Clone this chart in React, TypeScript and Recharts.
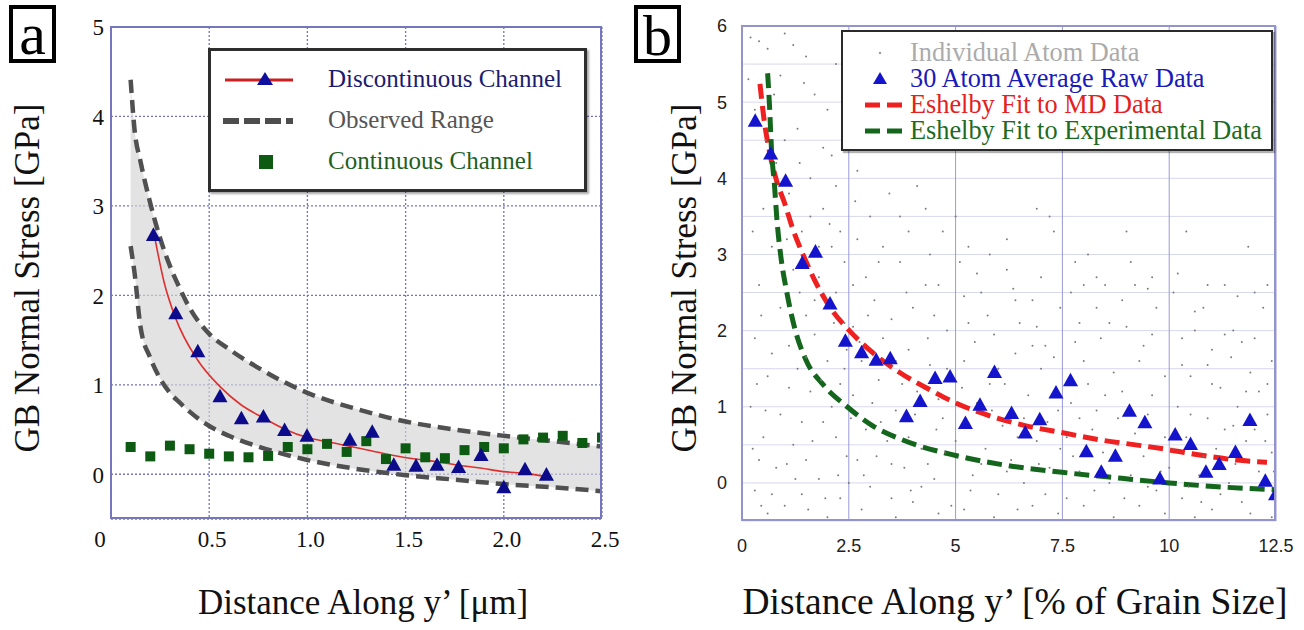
import React from "react";
import {
  ComposedChart,
  Line,
  Area,
  Scatter,
  XAxis,
  YAxis,
  CartesianGrid,
} from "recharts";

const SERIF = "'Liberation Serif', 'Times New Roman', serif";
const SANS = "'Liberation Sans', Arial, sans-serif";

// ---------- Panel (a) data ----------
const aXTicks = [0, 0.5, 1.0, 1.5, 2.0, 2.5];
const aXTickLabels = ["0", "0.5", "1.0", "1.5", "2.0", "2.5"];
const aYTicks = [0, 1, 2, 3, 4, 5];

const aBandX = [0.1, 0.12, 0.15, 0.2, 0.25, 0.3, 0.35, 0.4, 0.5, 0.6, 0.75, 1.0, 1.25, 1.5, 1.75, 2.0, 2.25, 2.5];
const aBandUpper = [4.41, 3.85, 3.5, 3.03, 2.64, 2.33, 2.08, 1.86, 1.57, 1.4, 1.19, 0.91, 0.73, 0.59, 0.5, 0.43, 0.37, 0.31];
const aBandLower = [2.55, 2.25, 1.65, 1.3, 1.07, 0.91, 0.8, 0.7, 0.54, 0.43, 0.31, 0.16, 0.06, -0.01, -0.06, -0.11, -0.145, -0.19];

const aFitX = [0.225, 0.27, 0.33, 0.44, 0.555, 0.66, 0.776, 0.88, 1.0, 1.11, 1.22, 1.33, 1.44, 1.55, 1.66, 1.77, 1.88, 2.0, 2.11, 2.22];
const aFitY = [2.62, 2.15, 1.74, 1.28, 0.98, 0.78, 0.63, 0.51, 0.41, 0.36, 0.31, 0.26, 0.21, 0.17, 0.14, 0.1, 0.07, 0.03, 0.01, -0.03];

const aDiscX = [0.216, 0.33, 0.442, 0.555, 0.664, 0.776, 0.884, 0.998, 1.216, 1.33, 1.44, 1.553, 1.66, 1.77, 1.884, 2.0, 2.108, 2.217];
const aDiscY = [2.67, 1.795, 1.37, 0.865, 0.62, 0.64, 0.49, 0.425, 0.38, 0.47, 0.1, 0.09, 0.1, 0.075, 0.21, -0.15, 0.05, -0.01];

const aContX = [0.1, 0.2, 0.3, 0.4, 0.5, 0.6, 0.7, 0.8, 0.9, 1.0, 1.1, 1.2, 1.3, 1.4, 1.5, 1.6, 1.7, 1.8, 1.9, 2.0, 2.1, 2.2, 2.3, 2.4, 2.5];
const aContY = [0.305, 0.2, 0.32, 0.28, 0.23, 0.2, 0.19, 0.205, 0.305, 0.28, 0.34, 0.25, 0.37, 0.17, 0.29, 0.19, 0.18, 0.27, 0.305, 0.29, 0.39, 0.41, 0.43, 0.35, 0.41];

// ---------- Panel (b) data ----------
const bXTicks = [0, 2.5, 5, 7.5, 10, 12.5];
const bXTickLabels = ["0", "2.5", "5", "7.5", "10", "12.5"];
const bYGrid = [-0.5, 0, 0.5, 1, 1.5, 2, 2.5, 3, 3.5, 4, 4.5, 5, 5.5, 6];
const bYLabels = [0, 1, 2, 3, 4, 5, 6];

const bAvgX = [0.31, 0.67, 1.02, 1.41, 1.72, 2.06, 2.42, 2.8, 3.14, 3.47, 3.85, 4.17, 4.52, 4.87, 5.23, 5.57, 5.91, 6.31, 6.63, 6.97, 7.35, 7.69, 8.06, 8.41, 8.74, 9.07, 9.43, 9.78, 10.14, 10.5, 10.86, 11.17, 11.55, 11.89, 12.25, 12.49];
const bAvgY = [4.75, 4.32, 3.96, 2.88, 3.03, 2.35, 1.86, 1.71, 1.61, 1.63, 0.87, 1.07, 1.37, 1.39, 0.78, 1.02, 1.45, 0.91, 0.655, 0.83, 1.18, 1.34, 0.41, 0.14, 0.35, 0.94, 0.79, 0.05, 0.63, 0.505, 0.14, 0.24, 0.4, 0.82, 0.02, -0.155];

const bMdFitX = [0.42, 0.51, 0.65, 0.82, 1.0, 1.18, 1.45, 1.72, 2.08, 2.53, 3.06, 3.69, 4.41, 5.0, 5.75, 6.65, 7.54, 8.44, 9.34, 10.0, 10.68, 11.58, 12.29];
const bMdFitY = [5.24, 4.8, 4.33, 3.95, 3.67, 3.35, 2.97, 2.64, 2.29, 1.99, 1.71, 1.45, 1.22, 1.05, 0.89, 0.75, 0.655, 0.56, 0.49, 0.435, 0.37, 0.3, 0.27];

const bExpFitX = [0.6, 0.645, 0.69, 0.76, 0.82, 0.91, 1.05, 1.23, 1.5, 1.9, 2.44, 3.06, 3.78, 5.0, 6.2, 7.49, 8.89, 10.0, 11.13, 12.5];
const bExpFitY = [5.38, 4.94, 4.38, 3.91, 3.44, 2.97, 2.5, 2.04, 1.61, 1.29, 1.01, 0.75, 0.56, 0.36, 0.23, 0.14, 0.06, 0.0, -0.05, -0.09];

const bAtoms: [number, number][] = [
  [0.4, 5.8], [1.0, 5.9], [1.2, 5.75], [0.2, 5.85], [0.6, 5.7], [1.5, 5.6], [0.9, 5.35], [1.7, 5.1], [0.3, 4.9], [1.3, 4.65],
  [2.0, 4.9], [0.8, 4.2], [1.9, 4.4], [1.1, 3.8], [2.2, 3.9], [0.5, 3.6], [1.6, 3.5], [2.3, 3.3], [0.7, 3.1], [1.4, 3.3],
  [1.9, 3.6], [2.1, 3.1], [0.4, 2.6], [1.2, 2.8], [1.8, 2.7], [2.4, 2.9], [0.9, 2.3], [1.5, 2.2], [2.2, 2.5], [0.3, 1.9],
  [1.1, 1.8], [1.7, 1.95], [2.4, 2.1], [0.6, 1.4], [1.3, 1.5], [2.0, 1.6], [0.2, 1.0], [0.9, 0.9], [1.6, 1.2], [2.3, 1.3],
  [0.5, 0.6], [1.2, 0.5], [1.9, 0.8], [0.8, 0.2], [1.5, 0.3], [2.2, 0.6], [0.3, -0.1], [1.0, -0.3], [1.8, 0.05], [2.3, -0.2],
  [0.6, -0.4], [1.4, -0.15], [2.0, -0.45], [1.7, 2.4], [2.45, 1.75], [0.4, 0.3], [1.35, 4.2], [2.1, 4.3], [1.0, 4.5], [1.8, 3.1],
  [0.15, 5.3], [0.75, 5.1], [1.45, 5.25], [2.2, 5.5], [0.55, 4.5], [1.6, 4.0], [2.35, 4.6], [0.25, 3.3], [1.05, 3.2], [2.05, 3.4],
  [0.45, 2.2], [1.35, 2.5], [2.15, 2.1], [0.7, 1.7], [1.5, 1.65], [2.4, 1.5], [0.35, 1.3], [1.1, 1.25], [1.85, 1.35], [0.55, 0.95],
  [1.4, 0.8], [2.1, 1.0], [0.25, 0.45], [1.05, 0.25], [1.65, 0.55], [2.45, 0.35], [0.7, -0.15], [1.55, -0.35], [2.25, 0.1], [0.45, -0.3],
  [1.25, 0.05], [1.95, -0.2],
  [2.7, 3.2], [3.3, 3.1], [2.9, 2.7], [3.7, 2.9], [4.3, 3.6], [4.6, 2.6], [3.1, 2.4], [4.0, 2.3], [2.6, 2.05], [3.5, 2.15],
  [4.8, 2.0], [2.8, 1.6], [3.9, 1.75], [4.4, 1.55], [3.2, 1.35], [2.6, 1.15], [4.1, 1.2], [3.6, 0.95], [4.7, 0.85], [2.9, 0.7],
  [3.4, 0.55], [4.2, 0.45], [2.7, 0.3], [3.8, 0.2], [4.5, 0.05], [3.0, -0.05], [4.0, -0.25], [2.8, -0.35], [3.6, -0.45], [4.9, -0.3],
  [3.3, 1.9], [4.6, 1.1], [2.5, 0.0], [3.9, 0.6], [4.3, 2.6], [3.0, 3.5], [4.8, 1.5], [3.5, 0.25], [4.2, -0.05], [2.6, 2.6],
  [3.7, 3.5], [3.2, 2.9], [4.4, 3.0], [2.7, 4.1], [3.9, 3.3],
  [2.65, 3.7], [3.45, 3.8], [4.1, 3.9], [4.7, 3.3], [2.95, 2.2], [3.85, 2.5], [4.5, 2.2], [2.75, 1.85], [3.6, 1.6], [4.35, 1.9],
  [3.05, 1.05], [3.75, 1.3], [4.55, 0.7], [2.55, 0.85], [3.25, 0.8], [4.05, 0.9], [2.85, 0.1], [3.5, -0.2], [4.35, 0.25], [4.75, 0.4],
  [3.15, 0.35], [3.95, -0.1], [4.6, -0.4],
  [5.1, 2.9], [5.6, 2.5], [6.2, 2.8], [6.8, 2.4], [7.2, 3.5], [7.3, 3.3], [5.3, 2.1], [5.9, 1.95], [6.5, 2.1], [7.1, 1.8],
  [5.2, 1.6], [5.8, 1.3], [6.4, 1.7], [7.0, 1.5], [5.5, 1.05], [6.1, 0.75], [6.7, 1.15], [7.4, 0.95], [5.0, 0.55], [5.7, 0.45],
  [6.3, 0.3], [6.9, 0.55], [5.4, 0.1], [6.0, -0.15], [6.6, 0.0], [7.2, 0.2], [5.2, -0.35], [5.9, -0.45], [6.8, -0.3], [7.4, -0.4],
  [6.2, 3.2], [5.5, 2.75], [7.0, 2.7], [6.0, 1.5], [5.0, 3.5], [6.6, 0.85], [5.3, 3.1], [6.4, 2.4], [7.3, 1.2],
  [5.2, 2.45], [5.75, 2.2], [6.35, 2.55], [6.9, 2.05], [7.45, 2.3], [5.45, 1.85], [6.15, 1.3], [6.8, 1.8], [7.3, 1.65], [5.15, 1.25],
  [5.85, 0.95], [6.45, 0.6], [7.15, 0.8], [5.6, 0.25], [6.2, 0.15], [6.95, 0.25], [7.45, 0.45], [5.35, -0.1], [6.45, -0.35], [7.1, -0.15],
  [5.8, 3.0], [6.9, 3.6],
  [7.8, 2.9], [8.5, 2.6], [9.2, 2.6], [9.7, 2.3], [7.9, 2.1], [8.4, 1.9], [9.0, 2.05], [9.6, 1.95], [8.0, 1.6], [8.7, 1.45],
  [9.3, 1.6], [9.9, 1.4], [7.7, 1.05], [8.3, 0.95], [8.9, 1.2], [9.5, 0.9], [7.6, 0.6], [8.2, 0.7], [8.8, 0.5], [9.4, 0.35],
  [9.9, 0.6], [7.9, 0.15], [8.6, 0.0], [9.1, 0.1], [9.7, -0.1], [8.0, -0.3], [8.7, -0.45], [9.3, -0.3], [9.9, -0.4], [8.1, 3.0],
  [9.6, 2.7], [7.6, -0.2], [8.5, 1.15], [9.1, 2.9], [8.3, 2.3],
  [7.7, 2.5], [8.3, 2.7], [8.9, 2.4], [9.5, 2.55], [7.8, 1.85], [8.6, 2.1], [9.4, 1.8], [8.1, 1.3], [8.8, 0.85], [9.6, 1.15],
  [7.9, 0.85], [8.45, 0.4], [9.2, 0.65], [9.8, 0.15], [8.25, -0.1], [8.95, -0.2], [9.5, -0.05], [7.75, 0.35], [9.0, 3.3], [8.0, 2.6],
  [10.1, 2.5], [10.8, 2.3], [11.5, 2.0], [12.2, 2.3], [10.3, 1.9], [11.0, 1.75], [11.7, 1.85], [12.4, 1.6], [10.5, 1.4], [11.2, 1.25],
  [11.9, 1.45], [10.2, 1.0], [10.9, 0.85], [11.6, 1.0], [12.3, 0.9], [10.4, 0.6], [11.1, 0.45], [11.8, 0.55], [12.4, 0.4], [10.0, 0.2],
  [10.7, 0.1], [11.4, 0.0], [12.1, 0.15], [10.3, -0.2], [11.0, -0.35], [11.7, -0.25], [12.4, -0.45], [10.6, -0.45], [11.3, 2.6], [12.0, 2.5],
  [10.9, 1.55], [11.5, 0.75], [12.1, 1.2], [10.6, 2.0],
  [10.2, 2.75], [10.9, 2.6], [11.6, 2.45], [12.3, 2.6], [10.6, 2.25], [11.3, 1.95], [12.0, 1.9], [10.3, 1.55], [11.0, 1.3], [11.8, 1.2],
  [12.3, 1.3], [10.5, 0.9], [11.3, 0.7], [12.0, 0.7], [10.1, 0.45], [10.8, 0.35], [11.55, 0.25], [12.25, 0.55], [10.45, -0.05], [11.2, -0.15],
  [11.9, -0.4], [12.45, 0.15], [11.45, 1.65], [10.75, -0.25], [11.85, 3.1], [10.4, 3.3],
];

// ---------- built tables ----------
const aBand = aBandX.map((x, i) => ({ x, range: [aBandLower[i], aBandUpper[i]], upper: aBandUpper[i], lower: aBandLower[i] }));
const aFit = aFitX.map((x, i) => ({ x, y: aFitY[i] }));
const aDisc = aDiscX.map((x, i) => ({ x, y: aDiscY[i] }));
const aCont = aContX.map((x, i) => ({ x, y: aContY[i] }));
const bAvg = bAvgX.map((x, i) => ({ x, y: bAvgY[i] }));
const bMd = bMdFitX.map((x, i) => ({ x, y: bMdFitY[i] }));
const bExp = bExpFitX.map((x, i) => ({ x, y: bExpFitY[i] }));
const bAtomData = bAtoms.map(([x, y]) => ({ x, y }));

const triShape = (color: string, s: number) => (p: any) => {
  const { cx, cy } = p;
  if (cx == null || cy == null) return <g />;
  return (
    <polygon
      points={`${cx},${cy - s * 0.62} ${cx - s * 0.58},${cy + s * 0.42} ${cx + s * 0.58},${cy + s * 0.42}`}
      fill={color}
    />
  );
};
const sqShape = (color: string, s: number) => (p: any) => {
  const { cx, cy } = p;
  if (cx == null || cy == null) return <g />;
  return <rect x={cx - s / 2} y={cy - s / 2} width={s} height={s} fill={color} />;
};
const dotShape = (p: any) => {
  const { cx, cy } = p;
  if (cx == null || cy == null) return <g />;
  return <circle cx={cx} cy={cy} r={1.0} fill="#7c7c7c" />;
};

const AXTick = (p: any) => {
  const v = p.payload.value;
  const idx = aXTicks.indexOf(v);
  const label = idx >= 0 ? aXTickLabels[idx] : String(v);
  return (
    <text x={p.x + (v === 0 ? -11 : 3)} y={p.y} dy="0.71em" textAnchor="middle" style={{ fontFamily: SERIF, fontSize: 23 }} fill="#111">
      {label}
    </text>
  );
};
const AYTick = (p: any) => (
  <text x={p.x + 1} y={p.y} dy="0.36em" textAnchor="end" style={{ fontFamily: SERIF, fontSize: 23 }} fill="#111">
    {p.payload.value}
  </text>
);
const BXTick = (p: any) => {
  const v = p.payload.value;
  const idx = bXTicks.indexOf(v);
  return (
    <text x={p.x} y={p.y} dy="0.71em" textAnchor="middle" style={{ fontFamily: SANS, fontSize: 18 }} fill="#222">
      {idx >= 0 ? bXTickLabels[idx] : v}
    </text>
  );
};
const BYTick = (p: any) => {
  const v = p.payload.value;
  if (!bYLabels.includes(v)) return <g />;
  return (
    <text x={p.x} y={p.y} dy="0.36em" textAnchor="end" style={{ fontFamily: SANS, fontSize: 18 }} fill="#222">
      {v}
    </text>
  );
};

function PanelA() {
  return (
    <div style={{ position: "absolute", left: 0, top: 0, width: 620, height: 630 }}>
      <ComposedChart width={620} height={630} margin={{ top: 27, right: 18, bottom: 81, left: 71 }}>
        <CartesianGrid stroke="#7373c2" strokeDasharray="2 2" strokeWidth={1.3} />
        <XAxis
          type="number"
          dataKey="x"
          domain={[0, 2.5]}
          ticks={aXTicks}
          interval={0}
          height={30}
          axisLine={false}
          tickLine={false}
          tickSize={10}
          tick={<AXTick />}
          allowDataOverflow
        />
        <YAxis
          type="number"
          domain={[-0.5, 5]}
          ticks={aYTicks}
          interval={0}
          width={40}
          axisLine={false}
          tickLine={false}
          tickSize={6}
          tick={<AYTick />}
          allowDataOverflow
        />
        <Area data={aBand} dataKey="range" type="monotone" stroke="none" fill="#d4d4d4" fillOpacity={0.65} isAnimationActive={false} />
        <Line data={aBand} dataKey="upper" type="monotone" stroke="#505050" strokeWidth={4.5} strokeDasharray="13 7" dot={false} isAnimationActive={false} />
        <Line data={aBand} dataKey="lower" type="monotone" stroke="#505050" strokeWidth={4.5} strokeDasharray="13 7" dot={false} isAnimationActive={false} />
        <Line data={aFit} dataKey="y" type="monotone" stroke="#dd3030" strokeWidth={1.6} dot={false} isAnimationActive={false} />
        <Scatter data={aCont} dataKey="y" shape={sqShape("#0d5a12", 10)} isAnimationActive={false} />
        <Scatter data={aDisc} dataKey="y" shape={triShape("#0b0b8c", 13)} isAnimationActive={false} />
      </ComposedChart>
      <div style={{ position: "absolute", left: 110, top: 26, width: 492, height: 493, border: "2px solid #7676bf", boxSizing: "border-box" }} />
      <div
        style={{
          position: "absolute",
          left: 208,
          top: 48,
          width: 379,
          height: 144,
          border: "3px solid #2e2e2e",
          boxSizing: "border-box",
          background: "#fff",
          boxShadow: "2px 2px 2px rgba(0,0,0,0.35)",
          fontFamily: SERIF,
          fontSize: 25,
          lineHeight: "28px",
        }}
      >
        <svg width={90} height={138} style={{ position: "absolute", left: 10, top: 0 }}>
          <line x1={4} y1={29} x2={72} y2={29} stroke="#cc2020" strokeWidth={3} />
          <polygon points="44,21 36,34 52,34" fill="#1010a0" />
          <line x1={2} y1={70} x2={72} y2={70} stroke="#4d4d4d" strokeWidth={6} strokeDasharray="16 5" />
          <rect x={38} y={104} width={14} height={14} fill="#0d5a12" />
        </svg>
        <div style={{ position: "absolute", left: 117, top: 14, color: "#1c1c6e", whiteSpace: "nowrap" }}>Discontinuous Channel</div>
        <div style={{ position: "absolute", left: 117, top: 55, color: "#555", whiteSpace: "nowrap" }}>Observed Range</div>
        <div style={{ position: "absolute", left: 117, top: 96, color: "#1f5f1f", whiteSpace: "nowrap" }}>Continuous Channel</div>
      </div>
    </div>
  );
}

function PanelB() {
  return (
    <div style={{ position: "absolute", left: 700, top: 0, width: 604, height: 630 }}>
      <ComposedChart width={604} height={630} margin={{ top: 26, right: 28, bottom: 79, left: 2 }}>
        <CartesianGrid horizontal={true} vertical={false} stroke="#d8d8ee" strokeWidth={1} />
        <CartesianGrid horizontal={false} vertical={true} stroke="#9a9ad6" strokeWidth={1} />
        <XAxis
          type="number"
          dataKey="x"
          domain={[0, 12.5]}
          ticks={bXTicks}
          interval={0}
          height={30}
          axisLine={false}
          tickLine={false}
          tickSize={16}
          tick={<BXTick />}
          allowDataOverflow
        />
        <YAxis
          type="number"
          domain={[-0.5, 6]}
          ticks={bYGrid}
          interval={0}
          width={40}
          axisLine={false}
          tickLine={false}
          tickSize={13}
          tick={<BYTick />}
          allowDataOverflow
        />
        <Scatter data={bAtomData} dataKey="y" shape={dotShape} isAnimationActive={false} />
        <Line data={bMd} dataKey="y" type="monotone" stroke="#ee2020" strokeWidth={5} strokeDasharray="15 7" dot={false} isAnimationActive={false} />
        <Line data={bExp} dataKey="y" type="monotone" stroke="#14661c" strokeWidth={5} strokeDasharray="15 7" dot={false} isAnimationActive={false} />
        <Scatter data={bAvg} dataKey="y" shape={triShape("#1414cc", 13)} isAnimationActive={false} />
      </ComposedChart>
      <div style={{ position: "absolute", left: 41, top: 25, width: 535, height: 496, border: "2px solid #9494cc", boxSizing: "border-box" }} />
      <div
        style={{
          position: "absolute",
          left: 141,
          top: 30,
          width: 432,
          height: 121,
          border: "2px solid #2a2a2a",
          boxSizing: "border-box",
          background: "#fff",
          boxShadow: "2px 2px 1px rgba(0,0,0,0.3)",
          fontFamily: SERIF,
          fontSize: 26.3,
          lineHeight: "22px",
        }}
      >
        <svg width={70} height={116} style={{ position: "absolute", left: 14, top: 0 }}>
          <circle cx={23} cy={21} r={1.2} fill="#999" />
          <polygon points="23,40 16,52 30,52" fill="#1414cc" />
          <line x1={8} y1={73} x2={47} y2={73} stroke="#ee2020" strokeWidth={5} strokeDasharray="15 7" />
          <line x1={8} y1={99} x2={47} y2={99} stroke="#14661c" strokeWidth={5} strokeDasharray="15 7" />
        </svg>
        <div style={{ position: "absolute", left: 67, top: 10, color: "#ababab", whiteSpace: "nowrap" }}>Individual Atom Data</div>
        <div style={{ position: "absolute", left: 67, top: 36, color: "#1a1ab8", whiteSpace: "nowrap" }}>30 Atom Average Raw Data</div>
        <div style={{ position: "absolute", left: 67, top: 62, color: "#e42020", whiteSpace: "nowrap" }}>Eshelby Fit to MD Data</div>
        <div style={{ position: "absolute", left: 67, top: 88, color: "#1e6a22", whiteSpace: "nowrap" }}>Eshelby Fit to Experimental Data</div>
      </div>
    </div>
  );
}

export default function App() {
  return (
    <div style={{ position: "absolute", left: 0, top: 0, width: 1304, height: 630, background: "#fff", overflow: "hidden" }}>
      <PanelA />
      <PanelB />
      <svg width={1304} height={630} style={{ position: "absolute", left: 0, top: 0, pointerEvents: "none" }}>
        <rect x={11} y={7} width={43} height={54} fill="#fff" stroke="#000" strokeWidth={4} />
        <text x={32.5} y={54} textAnchor="middle" fontFamily={SERIF} fontSize={60} fill="#000">a</text>
        <rect x={636} y={7} width={43} height={54} fill="#fff" stroke="#000" strokeWidth={4} />
        <text x={657.5} y={55} textAnchor="middle" fontFamily={SERIF} fontSize={58} fill="#000">b</text>
        <text x={27} y={278} transform="rotate(-90 27 278)" textAnchor="middle" dominantBaseline="central" fontFamily={SERIF} fontSize={35} fill="#111">
          GB Normal Stress [GPa]
        </text>
        <text x={684} y={278} transform="rotate(-90 684 278)" textAnchor="middle" dominantBaseline="central" fontFamily={SERIF} fontSize={35} fill="#111">
          GB Normal Stress [GPa]
        </text>
        <text x={363} y={614} textAnchor="middle" fontFamily={SERIF} fontSize={35} fill="#111">
          Distance Along y’ [μm]
        </text>
        <text x={1015} y={614} textAnchor="middle" fontFamily={SERIF} fontSize={37.5} fill="#111">
          Distance Along y’ [% of Grain Size]
        </text>
      </svg>
    </div>
  );
}
